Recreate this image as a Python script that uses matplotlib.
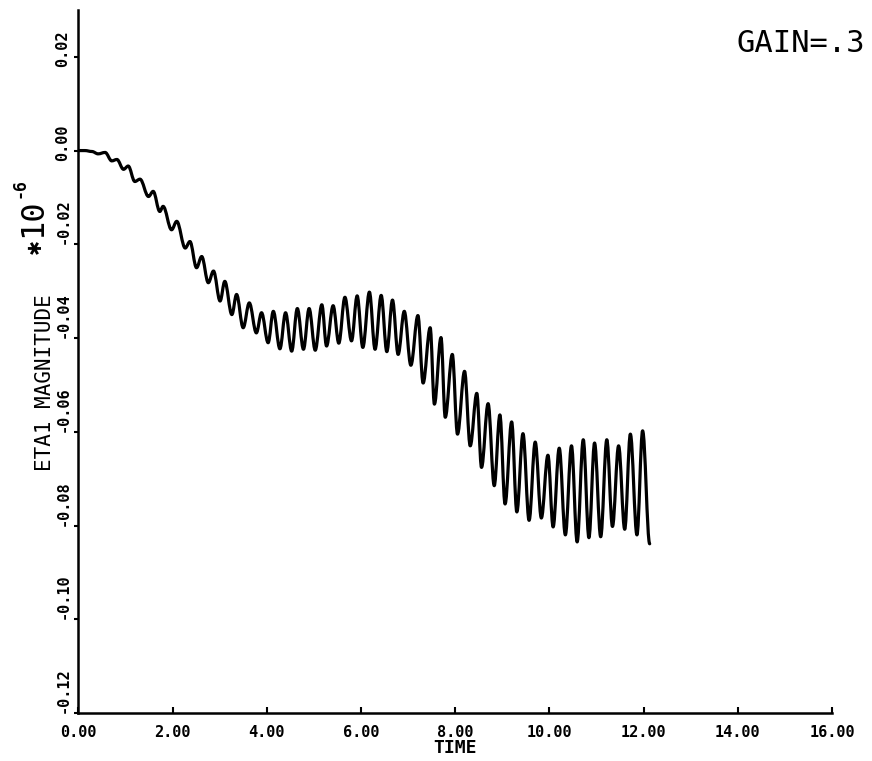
import matplotlib
matplotlib.use("Agg")
import matplotlib.pyplot as plt
from matplotlib.path import Path
from matplotlib.patches import PathPatch
from matplotlib.transforms import ScaledTranslation

# ETA1 response, values in units of 1e-6 (extremes of the oscillation)
time = [0.00, 0.14, 0.29, 0.42, 0.57, 0.71, 0.82, 0.96, 1.06, 1.20,
        1.31, 1.49, 1.59, 1.73, 1.80, 1.98, 2.09, 2.27, 2.37, 2.51,
        2.62, 2.76, 2.87, 3.01, 3.11, 3.26, 3.36, 3.50, 3.63, 3.78,
        3.89, 4.03, 4.14, 4.28, 4.40, 4.53, 4.65, 4.78, 4.90, 5.03,
        5.17, 5.27, 5.41, 5.53, 5.66, 5.80, 5.92, 6.04, 6.18, 6.30,
        6.43, 6.55, 6.67, 6.79, 6.92, 7.06, 7.21, 7.32, 7.47, 7.56,
        7.70, 7.79, 7.94, 8.05, 8.20, 8.32, 8.46, 8.56, 8.70, 8.83,
        8.95, 9.06, 9.20, 9.31, 9.44, 9.57, 9.70, 9.83, 9.97, 10.08,
        10.21, 10.34, 10.47, 10.59, 10.72, 10.84, 10.96, 11.09, 11.22, 11.34,
        11.47, 11.60, 11.72, 11.86, 11.98, 12.13]
eta1 = [0.0000, 0.0000, -0.0002, -0.0007, -0.0004, -0.0022, -0.0019, -0.0040, -0.0033, -0.0066,
        -0.0061, -0.0098, -0.0087, -0.0130, -0.0119, -0.0169, -0.0151, -0.0208, -0.0194, -0.0250,
        -0.0226, -0.0282, -0.0257, -0.0321, -0.0279, -0.0350, -0.0307, -0.0378, -0.0325, -0.0389,
        -0.0346, -0.0410, -0.0343, -0.0423, -0.0346, -0.0428, -0.0337, -0.0424, -0.0337, -0.0426,
        -0.0329, -0.0417, -0.0331, -0.0411, -0.0313, -0.0406, -0.0310, -0.0420, -0.0302, -0.0424,
        -0.0309, -0.0429, -0.0319, -0.0435, -0.0343, -0.0458, -0.0352, -0.0496, -0.0378, -0.0541,
        -0.0399, -0.0569, -0.0435, -0.0605, -0.0471, -0.0630, -0.0518, -0.0676, -0.0540, -0.0715,
        -0.0564, -0.0754, -0.0579, -0.0771, -0.0604, -0.0789, -0.0622, -0.0784, -0.0650, -0.0803,
        -0.0635, -0.0820, -0.0630, -0.0835, -0.0617, -0.0826, -0.0624, -0.0824, -0.0617, -0.0802,
        -0.0630, -0.0808, -0.0605, -0.0820, -0.0598, -0.0839]

xticks = [0, 2, 4, 6, 8, 10, 12, 14, 16]
xticklabels = ["0.00", "2.00", "4.00", "6.00", "8.00", "10.00", "12.00", "14.00", "16.00"]
yticks = [0.02, 0.0, -0.02, -0.04, -0.06, -0.08, -0.10, -0.12]
yticklabels = ["0.02", "0.00", "-0.02", "-0.04", "-0.06", "-0.08", "-0.10", "-0.12"]

MONO = "DejaVu Sans Mono"
plt.rcParams.update({"font.family": MONO, "axes.linewidth": 1.8})

fig = plt.figure(figsize=(8.72, 7.61), dpi=100)
ax = fig.add_axes([0.0898, 0.0631, 0.8643, 0.9238])

# join successive extremes with flat-tangent cubic segments so the
# oscillation reads as a smooth wave rather than a zigzag
k = 0.36
verts = [(time[0], eta1[0])]
codes = [Path.MOVETO]
for t0, y0, t1, y1 in zip(time[:-1], eta1[:-1], time[1:], eta1[1:]):
    dt = t1 - t0
    verts += [(t0 + k * dt, y0), (t1 - k * dt, y1), (t1, y1)]
    codes += [Path.CURVE4] * 3
ax.add_patch(PathPatch(Path(verts, codes), fill=False, edgecolor="black",
                       lw=2.3, joinstyle="round", capstyle="round"))

ax.set_xlim(0, 16)
ax.set_ylim(-0.12, 0.03)
ax.spines["top"].set_visible(False)
ax.spines["right"].set_visible(False)

ax.set_xticks(xticks)
ax.set_xticklabels(xticklabels, fontsize=11, fontweight="bold")
ax.set_yticks(yticks)
ax.set_yticklabels([])
ax.tick_params(axis="x", direction="in", length=4, width=1.5, pad=9)
ax.tick_params(axis="y", direction="out", length=3, width=1.5)

# y labels run upward from their tick; the shorter ones start a bit lower
for val, lab in zip(yticks, yticklabels):
    dy = 0 if lab.startswith("-") else -10
    tr = ax.get_yaxis_transform() + ScaledTranslation(-8 / 100, dy / 100, fig.dpi_scale_trans)
    ax.text(0, val, lab, transform=tr, fontsize=11, fontweight="bold",
            rotation=90, ha="right", va="bottom", clip_on=False)

fig.text(0.5218, 0.0171, "TIME", fontsize=13, fontweight="bold",
         ha="center", va="center")
fig.text(0.0516, 0.4967, "ETA1 MAGNITUDE", fontsize=15, rotation=90,
         ha="center", va="center")
fig.text(0.9186, 0.9422, "GAIN=.3", fontsize=22, ha="center", va="center")

# scale factor written beside the y axis
fig.text(0.0413, 0.6767, "\u2731", fontsize=13, rotation=90,
         ha="center", va="center", family="DejaVu Sans")
fig.text(0.0378, 0.7135, "10", fontsize=23, rotation=90,
         ha="center", va="center")
fig.text(0.0229, 0.7530, "-6", fontsize=12, fontweight="bold", rotation=90,
         ha="center", va="center")

fig.savefig("out.png", dpi=100)
plt.close(fig)
